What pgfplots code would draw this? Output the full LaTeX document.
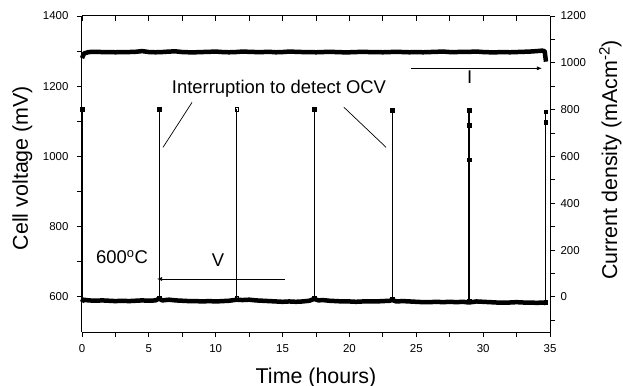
\documentclass[border=0pt]{standalone}
\usepackage{pgfplots}
\pgfplotsset{compat=1.18}
\usepackage{fontspec}
\setmainfont{Liberation Sans}
\usetikzlibrary{arrows.meta}
\begin{document}
\begin{tikzpicture}
\useasboundingbox (-82bp,-54bp) rectangle (541bp,332bp);
\pgfplotsset{
  every axis/.append style={
    at={(0,0)}, anchor=south west, scale only axis,
    width=468bp, height=316bp,
    xmin=0, xmax=35,
    /pgf/number format/assume math mode=true,
    ticklabel style={font=\fontsize{11.5}{13}\selectfont},
    major tick length=5bp, minor tick length=5bp,
    every tick/.style={black, line width=0.8bp},
    axis line style={line width=1bp},
    clip=false,
  }
}
% Left axis + bottom axis (voltage)
\begin{axis}[
  ymin=500, ymax=1400,
  axis x line*=bottom, axis y line*=left,
  tick align=outside,
  xtick={0,5,...,35}, minor xtick={2.5,7.5,...,32.5},
  ytick={600,800,1000,1200,1400}, minor ytick={700,900,1100,1300},
  xticklabel style={yshift=-4bp},
  yticklabel style={xshift=-5bp},
  /pgf/number format/1000 sep={},
]
% voltage trace
\addplot[black, line width=4.5bp, line join=round] coordinates {
(0,585) (0.1,592) (0.5,590) (1,589) (1.5,590) (2,589) (2.5,588) (3,589) (3.5,588) (4,589) (4.5,590) (5,589) (5.5,590) (5.76,595) (6,590) (6.5,592) (7,590) (7.5,589) (8,588) (8.5,588) (9,587) (9.5,588) (10,587) (10.5,588) (11,589) (11.57,592) (12,591) (12.5,592) (13,590) (13.5,589) (14,588) (14.5,587) (15,586) (15.5,587) (16,586) (16.5,587) (17,589) (17.35,594) (17.7,590) (18,591) (18.5,589) (19,588) (19.5,587) (20,587) (20.5,586) (21,587) (21.5,587) (22,587) (22.5,588) (23,589) (23.2,591) (23.5,587) (24,588) (24.5,587) (25,586) (25.5,585) (26,585) (26.5,586) (27,585) (27.5,586) (28,585) (28.5,586) (28.94,584) (29.5,587) (30,586) (30.5,585) (31,584) (31.5,584) (32,584) (32.5,585) (33,584) (33.5,584) (34,583) (34.5,584) (34.68,582)
};
% OCV spikes
\addplot[black, line width=0.8bp] coordinates {(0,590) (0,1134)};
\addplot[black, line width=0.8bp] coordinates {(5.76,596) (5.76,1134)};
\addplot[black, line width=0.8bp] coordinates {(11.57,596) (11.57,1134)};
\addplot[black, line width=0.8bp] coordinates {(17.35,596) (17.35,1134)};
\addplot[black, line width=0.8bp] coordinates {(23.2,592) (23.2,1131)};
\addplot[black, line width=1.8bp] coordinates {(28.94,586) (28.94,1131)};
\addplot[black, line width=0.8bp] coordinates {(34.68,584) (34.68,1127)};
\addplot[only marks, mark=square*, mark size=1.8bp, black] coordinates {
(0,1134) (5.76,1134) (17.35,1134) (23.2,1131) (28.94,1131) (28.94,1089) (28.94,991) (34.68,1127) (34.68,1098)
(5.76,598) (17.35,598) (23.2,593) (28.94,587) (34.68,585)
};
\addplot[only marks, mark=square, mark size=1.6bp, black, mark options={fill=white, line width=0.6bp}] coordinates {
(11.57,1134) (11.57,597)
};
% annotations
\node[anchor=base, font=\fontsize{18.5}{20}\selectfont] at (axis cs:14.73,1180) {Interruption to detect OCV};
\draw[black, line width=0.7bp] (axis cs:8.23,1154) -- (axis cs:6.06,1026);
\draw[black, line width=0.7bp] (axis cs:19.59,1140) -- (axis cs:22.74,1026);
\node[anchor=base, font=\fontsize{18.5}{20}\selectfont] at (axis cs:2.99,695) {600\textsuperscript{o}C};
\node[anchor=base, font=\fontsize{18.5}{20}\selectfont] at (axis cs:10.17,686) {V};
\draw[black, line width=0.7bp, -{Latex[length=5bp,width=4bp]}] (axis cs:15.18,651) -- (axis cs:5.61,651);
\node[anchor=base, font=\fontsize{18.5}{20}\selectfont] at (axis cs:29.0,1208) {I};
\draw[black, line width=0.7bp, -{Latex[length=5bp,width=4bp]}] (axis cs:24.6,1251) -- (axis cs:34.4,1251);
\end{axis}
% Right axis (current)
\begin{axis}[
  ymin=-150, ymax=1200,
  hide x axis, axis y line*=right,
  tick align=outside,
  ytick={0,200,...,1200}, minor ytick={-100,100,...,1100},
  yticklabel style={xshift=2bp},
  /pgf/number format/1000 sep={},
]
\addplot[black, line width=4.5bp, line join=round] coordinates {
(0,1020) (0.15,1040) (0.5,1046) (1,1047) (1.5,1046) (2,1046) (2.5,1045) (3,1046) (3.5,1046) (4,1047) (4.5,1050) (5,1046) (5.5,1045) (6,1046) (6.5,1048) (7,1049) (7.5,1046) (8,1045) (8.5,1045) (9,1046) (9.5,1047) (10,1048) (10.5,1046) (11,1045) (11.5,1046) (12,1048) (12.5,1047) (13,1046) (13.5,1046) (14,1047) (14.5,1045) (15,1046) (15.5,1048) (16,1047) (16.5,1046) (17,1046) (17.5,1045) (18,1046) (18.5,1047) (19,1046) (19.5,1045) (20,1045) (20.5,1046) (21,1047) (21.5,1046) (22,1046) (22.5,1045) (23,1046) (23.5,1047) (24,1046) (24.5,1045) (25,1046) (25.5,1045) (26,1046) (26.5,1047) (27,1048) (27.5,1046) (28,1046) (28.5,1047) (29,1047) (29.5,1048) (30,1046) (30.5,1045) (31,1045) (31.5,1046) (32,1045) (32.5,1046) (33,1047) (33.5,1048) (34,1050) (34.4,1052) (34.6,1050) (34.7,1005)
};
\end{axis}
% Top axis (inward ticks only)
\begin{axis}[
  ymin=0, ymax=1,
  hide y axis, axis x line*=top,
  tick align=inside,
  xtick={0,2.5,...,35}, xticklabels={},
]
\end{axis}
% axis labels
\node[rotate=90, anchor=base, font=\fontsize{21.5}{24}\selectfont] at (-54bp,164bp) {Cell voltage (mV)};
\node[rotate=90, anchor=base, font=\fontsize{21.5}{24}\selectfont] at (535bp,172bp) {Current density (mAcm\textsuperscript{-2})};
\node[anchor=base, font=\fontsize{21.5}{24}\selectfont] at (234bp,-51bp) {Time (hours)};
\end{tikzpicture}
\end{document}
